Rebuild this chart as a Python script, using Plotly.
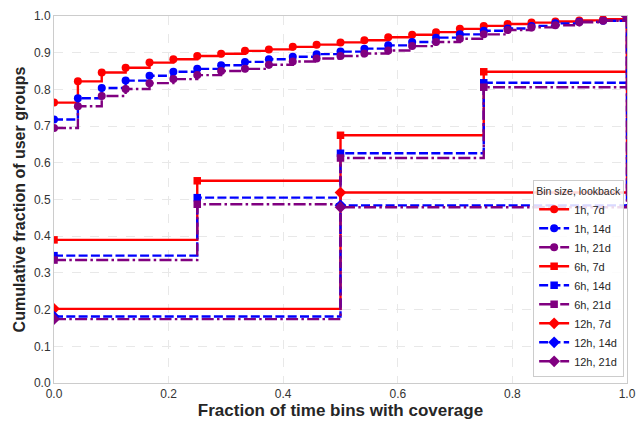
import plotly.graph_objects as go

# ---- data ----
x_1h = [0.0, 0.0417, 0.0833, 0.125, 0.1667, 0.2083, 0.25, 0.2917, 0.3333, 0.375,
        0.4167, 0.4583, 0.5, 0.5417, 0.5833, 0.625, 0.6667, 0.7083, 0.75, 0.7917,
        0.8333, 0.875, 0.9167, 0.9583, 1.0]
y_1h_7d = [0.764, 0.822, 0.846, 0.859, 0.873, 0.882, 0.891, 0.897, 0.905, 0.909,
           0.916, 0.922, 0.928, 0.934, 0.942, 0.949, 0.956, 0.965, 0.973, 0.978,
           0.982, 0.985, 0.988, 0.991, 1.0]
y_1h_14d = [0.718, 0.776, 0.804, 0.824, 0.837, 0.848, 0.856, 0.866, 0.875, 0.882,
            0.889, 0.896, 0.903, 0.911, 0.920, 0.929, 0.941, 0.950, 0.960, 0.966,
            0.973, 0.980, 0.984, 0.987, 1.0]
y_1h_21d = [0.695, 0.754, 0.782, 0.801, 0.817, 0.828, 0.839, 0.850, 0.856, 0.867,
            0.876, 0.884, 0.891, 0.898, 0.906, 0.918, 0.929, 0.938, 0.950, 0.962,
            0.969, 0.975, 0.983, 0.987, 1.0]

x_6h = [0.0, 0.25, 0.5, 0.75, 1.0]
y_6h_7d = [0.390, 0.551, 0.675, 0.848, 1.0]
y_6h_14d = [0.347, 0.505, 0.626, 0.818, 1.0]
y_6h_21d = [0.335, 0.487, 0.613, 0.806, 1.0]

x_12h = [0.0, 0.5, 1.0]
y_12h_7d = [0.202, 0.519, 1.0]
y_12h_14d = [0.181, 0.484, 1.0]
y_12h_21d = [0.174, 0.479, 1.0]

x_ticks = [0.0, 0.2, 0.4, 0.6, 0.8, 1.0]
y_ticks = [0.0, 0.1, 0.2, 0.3, 0.4, 0.5, 0.6, 0.7, 0.8, 0.9, 1.0]

# ---- styles ----
RED, BLUE, PURPLE = "#ff0000", "#0000ff", "#800080"
DASH = "9px,3.3px"
DASHDOT = "12px,3.3px,2.5px,3.3px"

series = [
    ("1h, 7d", x_1h, y_1h_7d, RED, "solid", "circle", 8),
    ("1h, 14d", x_1h, y_1h_14d, BLUE, DASH, "circle", 8),
    ("1h, 21d", x_1h, y_1h_21d, PURPLE, DASHDOT, "circle", 8),
    ("6h, 7d", x_6h, y_6h_7d, RED, "solid", "square", 7.5),
    ("6h, 14d", x_6h, y_6h_14d, BLUE, DASH, "square", 7.5),
    ("6h, 21d", x_6h, y_6h_21d, PURPLE, DASHDOT, "square", 7.5),
    ("12h, 7d", x_12h, y_12h_7d, RED, "solid", "diamond", 9),
    ("12h, 14d", x_12h, y_12h_14d, BLUE, DASH, "diamond", 9),
    ("12h, 21d", x_12h, y_12h_21d, PURPLE, DASHDOT, "diamond", 9),
]

fig = go.Figure()
for name, xs, ys, col, dash, sym, size in series:
    fig.add_trace(go.Scatter(
        x=xs, y=ys, name=name, mode="lines+markers",
        line=dict(color=col, width=2.4, dash=dash, shape="hv"),
        marker=dict(color=col, symbol=sym, size=size, line=dict(width=0)),
        cliponaxis=True,
    ))

FONT = "Liberation Sans, Arial, sans-serif"
axis_common = dict(
    showgrid=True, gridcolor="#e8e8e8", gridwidth=0.8, griddash="dash",
    showline=True, linecolor="#cccccc", linewidth=1, mirror=True,
    ticks="", zeroline=False, tickformat=".1f", ticklabeloverflow="allow",
    tickfont=dict(family=FONT, size=12, color="#333333"),
)

fig.update_layout(
    width=637, height=422,
    margin=dict(l=54, r=10, t=16, b=39, autoexpand=False),
    paper_bgcolor="white", plot_bgcolor="white",
    font=dict(family=FONT, color="#262626"),
    xaxis=dict(range=[0, 1], tickvals=x_ticks, automargin=False,
               title=dict(text="<b>Fraction of time bins with coverage</b>",
                          font=dict(family=FONT, size=17, color="#262626"), standoff=3),
               **axis_common),
    yaxis=dict(range=[0, 1], tickvals=y_ticks, automargin=False,
               title=dict(text="<b>Cumulative fraction of user groups</b>",
                          font=dict(family=FONT, size=16, color="#262626"), standoff=4),
               **axis_common),
    legend=dict(
        x=0.995, y=0.016, xanchor="right", yanchor="bottom",
        bgcolor="rgba(255,255,255,0.85)", bordercolor="#cccccc", borderwidth=1,
        font=dict(family=FONT, size=11, color="#262626"),
        title=dict(text="Bin size, lookback", font=dict(family=FONT, size=10.5, color="#262626")),
        tracegroupgap=0,
    ),
    showlegend=True,
)

# remove the default page margin so the figure fills the 637x422 window exactly
fig.write_html(
    "out.html",
    config={"displayModeBar": False},
    post_script="document.body.style.margin='0';document.body.style.overflow='hidden';",
)
